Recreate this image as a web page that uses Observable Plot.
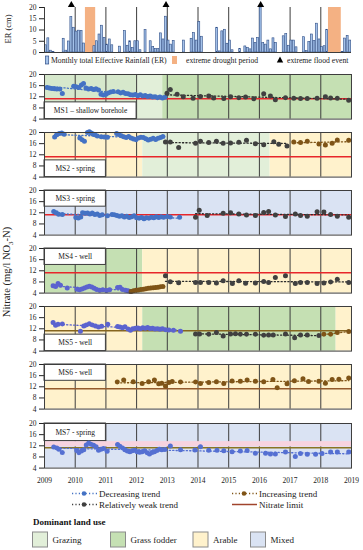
<!DOCTYPE html>
<html><head><meta charset="utf-8">
<script src="https://cdn.jsdelivr.net/npm/d3@7"></script>
<script src="https://cdn.jsdelivr.net/npm/@observablehq/plot@0.6"></script>
<style>
body{margin:0;background:#fff;}
#chart{position:relative;width:363px;height:550px;overflow:hidden;background:#fff;}
</style></head><body><div id="chart"></div>
<script>
// ---------------- DATA ----------------
const years = [2009,2010,2011,2012,2013,2014,2015,2016,2017,2018,2019];
// Monthly total effective rainfall (cm), Jan 2009 .. Dec 2018
const erMonthly = [
  3.2, 6.3, 0.8, 0.3, 0, 0, 0, 6.1, 0.8, 4.9, 15.7, 11.0,
  9.3, 9.7, 9.6, 4.0, 0, 0, 0, 2.8, 5.0, 8.0, 11.9, 6.5,
  3.5, 5.8, 3.2, 0, 0, 2.6, 0, 9.5, 3.0, 5.0, 2.0, 5.0,
  5.0, 1.0, 0, 10.0, 0, 5.0, 2.5, 1.6, 1.5, 8.5, 5.8, 15.9,
  5.3, 3.5, 5.2, 0, 0, 0, 5.3, 0, 0, 6.1, 8.6, 5.3,
  13.5, 7.0, 0, 0, 0, 0, 0, 11.0, 0.5, 9.4, 10.1, 3.9,
  5.3, 1.0, 0, 0, 1.5, 0, 2.7, 2.1, 1.4, 6.2, 4.2, 6.5,
  20.0, 4.2, 3.5, 5.3, 1.4, 6.3, 4.3, 0, 0, 7.2, 8.2, 3.0,
  5.3, 5.3, 2.3, 0, 0, 6.8, 0.6, 4.7, 8.0, 5.1, 12.8, 5.8,
  2.4, 2.8, 10.1, 0, 0, 0, 0, 0, 0.3, 6.2, 7.4, 5.3
];
const droughtPeriods = [[2010.333, 2010.667], [2018.25, 2018.667]];
const floodMonths = [10, 47, 84]; // month index from Jan 2009
const nitrateLimit = 11.3;

const ms1Decreasing = [[2009.08,15.3],[2009.16,15.2],[2009.24,15.0],[2009.32,14.9],[2009.40,14.8],[2009.50,14.8],[2009.58,13.2],[2009.95,15.8],[2010.03,15.6],[2010.12,15.3],[2010.20,16.2],[2010.27,16.8],[2010.35,15.2],[2010.43,14.8],[2010.52,15.0],[2010.60,14.6],[2010.68,14.9],[2010.76,14.4],[2010.84,12.9],[2010.92,12.6],[2011.00,12.9],[2011.08,13.4],[2011.16,13.7],[2011.24,13.9],[2011.40,13.8],[2011.48,13.4],[2011.56,13.6],[2011.64,13.2],[2011.72,13.1],[2011.80,12.7],[2011.88,12.6],[2011.96,12.8],[2012.04,12.4],[2012.12,12.7],[2012.20,12.3],[2012.28,12.5],[2012.36,12.1],[2012.44,12.3],[2012.52,11.9],[2012.60,12.0],[2012.68,11.7],[2012.76,11.9],[2012.84,11.6],[2012.92,11.8]];
const ms1Weak = [[2012.99,13.3],[2013.10,14.6],[2013.32,12.9],[2013.52,12.0],[2013.84,11.5],[2014.08,12.1],[2014.35,12.3],[2014.51,11.6],[2014.84,11.4],[2015.06,12.0],[2015.33,11.7],[2015.55,11.9],[2015.82,11.3],[2016.14,13.1],[2016.36,12.3],[2016.52,10.9],[2016.85,11.7],[2017.12,11.5],[2017.34,11.4],[2017.56,11.4],[2017.88,11.5],[2018.15,12.0],[2018.32,11.6],[2018.54,11.5],[2018.91,10.8]];

const ms2Decreasing = [[2009.33,18.4],[2009.40,19.2],[2009.48,19.6],[2009.56,19.8],[2009.64,19.4],[2010.15,18.0],[2010.22,17.4],[2010.30,16.9],[2010.40,20.0],[2010.46,20.3],[2010.52,19.8],[2010.58,19.5],[2010.64,19.2],[2010.72,18.7],[2010.85,18.5],[2010.95,18.4],[2011.05,18.3],[2011.35,19.6],[2011.42,19.3],[2011.50,18.8],[2011.58,18.5],[2011.66,18.2],[2011.74,18.6],[2011.82,18.0],[2011.90,17.7],[2011.98,17.4],[2012.06,18.0],[2012.14,18.3],[2012.22,18.2],[2012.30,17.8],[2012.38,17.3],[2012.46,17.6],[2012.54,17.9],[2012.62,17.5],[2012.70,17.9],[2012.78,18.2],[2012.86,18.6]];
const ms2Weak = [[2012.94,16.6],[2013.10,16.6],[2013.37,14.6],[2013.92,16.1],[2014.08,16.9],[2014.35,16.4],[2014.60,16.9],[2014.82,16.1],[2015.06,16.2],[2015.33,16.5],[2015.58,17.2],[2015.87,16.0],[2016.14,15.6],[2016.47,16.7],[2016.63,15.8],[2016.90,15.2]];
const ms2Increasing = [[2017.12,16.6],[2017.34,16.4],[2017.56,16.9],[2017.94,15.9],[2018.15,15.5],[2018.37,16.1],[2018.54,17.3],[2018.91,17.2]];

const ms3Decreasing = [[2009.30,12.5],[2009.38,12.0],[2009.46,11.5],[2009.58,11.4],[2010.02,10.3],[2010.10,10.1],[2010.18,10.5],[2010.24,12.0],[2010.32,11.8],[2010.40,11.9],[2010.48,11.6],[2010.56,11.9],[2010.64,11.4],[2010.72,11.6],[2010.80,11.0],[2010.88,11.3],[2011.05,10.9],[2011.20,11.4],[2011.28,11.3],[2011.36,11.0],[2011.44,10.8],[2011.52,10.9],[2011.60,10.5],[2011.68,10.8],[2011.76,10.3],[2011.84,10.6],[2011.92,10.9],[2012.00,10.2],[2012.08,10.0],[2012.16,10.3],[2012.24,9.9],[2012.32,10.2],[2012.40,10.0],[2012.48,10.4],[2012.56,10.2],[2012.64,10.6],[2012.72,10.3],[2012.80,10.6],[2012.88,10.4],[2013.00,10.7],[2013.10,10.5],[2013.40,10.4]];
const ms3Weak = [[2013.92,10.4],[2014.04,12.9],[2014.30,11.0],[2014.82,11.8],[2015.06,12.0],[2015.33,11.6],[2015.58,11.2],[2015.87,11.0],[2016.14,12.1],[2016.30,12.5],[2016.52,11.2],[2016.85,10.7],[2017.17,11.6],[2017.34,11.0],[2017.56,10.8],[2017.88,12.4],[2018.10,12.3],[2018.32,11.4],[2018.54,10.8],[2018.91,10.4]];

const ms4Decreasing = [[2009.28,6.6],[2009.36,6.4],[2009.44,7.4],[2009.52,6.8],[2009.74,5.8],[2010.06,5.4],[2010.14,5.2],[2010.22,5.5],[2010.30,5.8],[2010.38,6.2],[2010.46,6.5],[2010.54,6.2],[2010.62,5.7],[2010.70,5.3],[2010.80,5.0],[2010.90,5.2],[2011.02,4.9],[2011.12,5.2],[2011.38,6.0],[2011.46,6.1],[2011.54,5.3],[2011.64,5.0],[2011.72,4.8],[2011.80,4.6]];
const ms4Increasing = [[2011.82,4.6],[2011.90,4.8],[2011.98,5.0],[2012.06,5.1],[2012.14,5.3],[2012.22,5.4],[2012.30,5.6],[2012.38,5.7],[2012.46,5.8],[2012.54,5.9],[2012.62,6.0],[2012.70,6.1],[2012.78,6.3],[2012.86,6.4]];
const ms4Weak = [[2012.94,10.2],[2013.10,8.1],[2013.37,7.7],[2013.92,7.8],[2014.08,7.8],[2014.35,7.8],[2014.60,7.6],[2014.82,8.4],[2015.12,7.4],[2015.33,8.4],[2015.55,7.5],[2015.87,7.6],[2016.14,8.2],[2016.30,7.8],[2016.52,9.6],[2016.85,10.2],[2017.17,7.4],[2017.34,7.8],[2017.56,7.8],[2017.88,7.4],[2018.10,7.6],[2018.32,8.0],[2018.54,9.0],[2018.91,7.8]];

const ms5Decreasing = [[2009.28,14.3],[2009.36,13.3],[2009.44,13.6],[2009.58,13.7],[2010.17,11.1],[2010.28,13.0],[2010.36,13.4],[2010.46,13.8],[2010.56,13.4],[2010.66,13.0],[2010.76,12.6],[2010.86,12.9],[2011.06,13.6],[2011.38,12.8],[2011.46,12.6],[2011.54,12.4],[2011.62,12.7],[2011.72,11.9],[2011.80,11.5],[2011.88,12.0],[2011.96,12.2],[2012.04,12.3],[2012.12,12.0],[2012.20,12.4],[2012.28,12.2],[2012.36,12.5],[2012.44,12.1],[2012.52,12.2],[2012.60,11.9],[2012.68,12.0],[2012.76,11.8],[2012.84,12.0],[2012.94,11.7],[2013.05,11.6],[2013.20,11.5],[2013.43,11.1]];
const ms5Weak = [[2013.92,10.1],[2014.05,10.1],[2014.35,10.0],[2014.60,10.7],[2014.82,9.4],[2015.06,10.1],[2015.22,10.2],[2015.38,10.0],[2015.58,10.0],[2015.87,10.0],[2016.14,9.7],[2016.30,9.8],[2016.45,9.8],[2016.85,10.1],[2017.15,8.8],[2017.34,9.8],[2017.56,9.8],[2017.94,9.6]];
const ms5Increasing = [[2018.10,10.0],[2018.32,10.0],[2018.54,10.7],[2018.91,11.0]];

const ms6Increasing = [[2011.37,13.7],[2011.58,14.4],[2011.89,13.8],[2012.18,13.2],[2012.39,13.8],[2012.58,14.4],[2012.72,13.1],[2012.82,13.3],[2012.94,12.3],[2013.05,13.5],[2013.16,13.9],[2013.43,13.7],[2013.92,13.7],[2014.08,13.2],[2014.35,13.5],[2014.60,13.8],[2014.84,13.2],[2015.11,14.1],[2015.38,14.0],[2015.60,14.4],[2015.87,14.0],[2016.14,13.8],[2016.44,14.6],[2016.58,11.7],[2016.90,13.1],[2017.14,14.2],[2017.42,14.9],[2017.60,13.9],[2017.94,14.0],[2018.15,13.3],[2018.37,14.6],[2018.59,14.7],[2018.91,15.2]];

const ms7Decreasing = [[2009.30,11.6],[2009.40,11.2],[2009.47,10.8],[2009.58,9.6],[2010.05,10.3],[2010.12,9.5],[2010.20,10.1],[2010.28,10.6],[2010.36,12.3],[2010.44,13.0],[2010.52,12.6],[2010.60,12.2],[2010.68,11.7],[2010.76,10.4],[2010.84,10.8],[2010.92,11.0],[2011.04,10.0],[2011.38,12.5],[2011.46,11.8],[2011.54,11.2],[2011.62,10.6],[2011.70,10.1],[2011.78,9.9],[2011.86,10.2],[2011.94,10.4],[2012.02,9.9],[2012.10,9.7],[2012.18,9.9],[2012.26,10.2],[2012.34,9.5],[2012.42,9.1],[2012.50,9.6],[2012.58,9.9],[2012.66,10.3],[2012.74,10.8],[2012.82,10.6],[2012.92,10.7],[2013.10,11.9],[2013.43,10.6],[2013.90,10.5],[2014.08,11.7],[2014.35,10.4],[2014.62,10.4],[2014.84,10.2],[2015.11,9.9],[2015.38,10.1],[2015.60,10.3],[2015.87,9.3],[2016.20,9.3],[2016.36,9.1],[2016.52,9.1],[2016.85,9.8],[2017.17,8.2],[2017.34,9.2],[2017.56,9.0],[2017.83,9.0],[2018.04,9.2],[2018.32,9.8],[2018.54,9.8],[2018.91,9.8]];

// land use periods [from, to, use]
const ms1Land = [[2009, 2012, "Grazing"], [2012, 2012.85, "Grazing"], [2012.85, 2019, "Grass fodder"]];
const ms2Land = [[2009, 2012.2, "Arable"], [2012.2, 2016.35, "Grazing"], [2016.35, 2019, "Arable"]];
const ms3Land = [[2009, 2019, "Mixed"]];
const ms4Land = [[2009, 2012.2, "Grass fodder"], [2012.2, 2019, "Arable"]];
const ms5Land = [[2009, 2012.2, "Arable"], [2012.2, 2018.5, "Grass fodder"], [2018.5, 2019, "Arable"]];
const ms6Land = [[2009, 2019, "Arable"]];
const ms7Land = [[2009, 2019, "Mixed"]];

const siteNames = ["MS1 \u2013 shallow borehole", "MS2 - spring", "MS3 - spring", "MS4 - well", "MS5 - well", "MS6 - well", "MS7 - spring"];
const landUses = ["Grazing", "Grass fodder", "Arable", "Mixed"];

// ---------------- STYLE ----------------
const FONT = '"Liberation Serif", "Times New Roman", serif';
const landColors = {"Grazing": "#e2efd9", "Grass fodder": "#c5e0b3", "Arable": "#fff2cc", "Mixed": "#dae3f3"};
const dotColor = {dec: "#4472c4", weak: "#404040", inc: "#7f5417"};
const lineColor = {dec: "#4472c4", weak: "#2a2a2a", inc: "#7f5417"};
const gridColor = "#3d3d3d";

const panels = [
  {land: ms1Land, box: [2009, 2012, 4, 10], series: [["dec", ms1Decreasing], ["weak", ms1Weak]], limit: "#e8262b", tint: [2009, 2012, "#d6e8cc"]},
  {land: ms2Land, box: [2009, 2011, 4, 10], series: [["dec", ms2Decreasing], ["weak", ms2Weak], ["inc", ms2Increasing]], limit: "#e8262b"},
  {land: ms3Land, box: [2009, 2011, 14.2, 20], series: [["dec", ms3Decreasing], ["weak", ms3Weak]], limit: "#e8262b"},
  {land: ms4Land, box: [2009, 2011, 14.1, 20], series: [["dec", ms4Decreasing], ["inc", ms4Increasing], ["weak", ms4Weak]], limit: "#e8262b", dec: "#5b63cf"},
  {land: ms5Land, box: [2009, 2011, 4, 9.9], series: [["dec", ms5Decreasing], ["weak", ms5Weak], ["inc", ms5Increasing]], limit: "#86651f", dec: "#5b63cf"},
  {land: ms6Land, box: [2009, 2011, 14.15, 20], series: [["inc", ms6Increasing]], limit: "#945a2c"},
  {land: ms7Land, box: [2009, 2011, 13.7, 20], series: [["dec", ms7Decreasing]], limit: "#8a7422", band: [11.6, 13.5], dec: "#5570d2"}
];

const chartEl = document.getElementById("chart");
function place(svg, top) {
  svg.style.position = "absolute";
  svg.style.left = "0px";
  svg.style.top = top + "px";
  chartEl.appendChild(svg);
}
const baseStyle = {fontFamily: FONT, fontSize: "7.5px", background: "transparent", overflow: "visible", color: "#222"};

// ---------------- ER PANEL ----------------
const erRows = erMonthly.map((v, m) => ({m, v})).filter(d => d.v > 0);
const erPlot = Plot.plot({
  width: 363, height: 53, marginTop: 4, marginBottom: 4, marginLeft: 44, marginRight: 12,
  style: baseStyle,
  x: {domain: [2009, 2019], axis: null},
  y: {domain: [0, 20], ticks: [0, 5, 10, 15, 20], tickSize: 5, tickPadding: 3, label: null},
  marks: [
    Plot.rect(droughtPeriods, {x1: d => d[0], x2: d => d[1], y1: 0, y2: 20, fill: "#f4b183"}),
    Plot.ruleX(years.slice(1, -1), {y1: 0, y2: 20, stroke: gridColor, strokeWidth: 1}),
    Plot.rect(erRows, {x1: d => 2009 + d.m / 12, x2: d => 2009 + (d.m + 1) / 12, y1: 0, y2: d => d.v,
      fill: "#a4c2ea", stroke: "#2e4d86", strokeWidth: 0.6, insetLeft: 0.3, insetRight: 0.3}),
    Plot.ruleY([0], {stroke: gridColor}),
    Plot.ruleX([2009], {y1: 0, y2: 20, stroke: gridColor}),
    Plot.dot(floodMonths, {x: m => 2009 + (m + 0.5) / 12, y: () => 20, symbol: "triangle", r: 2.6, fill: "#000", dy: -2.5})
  ]
});
place(erPlot, 6.7 - 4);

// ---------------- NITRATE PANELS ----------------
panels.forEach((p, i) => {
  const top = 73.5 + i * 58.17;
  const last = i === panels.length - 1;
  const mt = 4, mb = last ? 22 : 4, h = 44.6;
  const dc = k => (k === "dec" && p.dec) ? p.dec : dotColor[k];
  const lc = k => (k === "dec" && p.dec) ? p.dec : lineColor[k];
  const marks = [
    Plot.rect(p.land, {x1: d => d[0], x2: d => d[1], y1: 4, y2: 20, fill: d => landColors[d[2]]})
  ];
  if (p.tint) marks.push(Plot.rect([p.tint], {x1: d => d[0], x2: d => d[1], y1: 4, y2: 20, fill: d => d[2]}));
  marks.push(Plot.ruleX(years.slice(1, -1), {stroke: gridColor, strokeWidth: 1}));
  if (p.band) marks.push(Plot.rect([p.band], {x1: () => 2009, x2: () => 2019, y1: d => d[0], y2: d => d[1], fill: "#f7d3df"}));
  marks.push(Plot.rect([p.box], {x1: d => d[0], x2: d => d[1], y1: d => d[2], y2: d => d[3], fill: "#fff", stroke: gridColor, strokeWidth: 1}));
  marks.push(Plot.text([siteNames[i]], {x: () => (p.box[0] + p.box[1]) / 2, y: () => (p.box[2] + p.box[3]) / 2, text: d => d, fontSize: 7.5, fill: "#222", fontFamily: FONT}));
  marks.push(Plot.ruleY([nitrateLimit], {stroke: p.limit, strokeWidth: 1.5}));
  p.series.forEach(([k, data]) => {
    marks.push(Plot.linearRegressionY(data, {x: d => d[0], y: d => d[1], ci: 0, stroke: lc(k), strokeWidth: 1.3, strokeDasharray: "1.2,2.2"}));
  });
  p.series.forEach(([k, data]) => {
    marks.push(Plot.dot(data, {x: d => d[0], y: d => d[1], r: 2.5, fill: dc(k), stroke: "none"}));
  });
  marks.push(Plot.frame({stroke: gridColor, strokeWidth: 1}));
  const svg = Plot.plot({
    width: 363, height: h + mt + mb, marginTop: mt, marginBottom: mb, marginLeft: 44, marginRight: 12,
    style: baseStyle,
    x: last ? {domain: [2009, 2019], ticks: years, tickFormat: d => String(d), tickSize: 0, tickPadding: 10, label: null}
            : {domain: [2009, 2019], axis: null},
    y: {domain: [4, 20], ticks: [4, 8, 12, 16, 20], tickSize: 5, tickPadding: 3, label: null},
    marks
  });
  place(svg, top - mt);
});

// ---------------- LABELS & LEGENDS ----------------
const ov = d3.select(chartEl).append("svg")
  .attr("width", 363).attr("height", 550)
  .style("position", "absolute").style("left", "0px").style("top", "0px")
  .style("font-family", FONT).style("pointer-events", "none");

ov.append("text").attr("transform", "translate(11,29) rotate(-90)").attr("text-anchor", "middle")
  .attr("font-size", 8.5).attr("fill", "#222").text("ER (cm)");
const nl = ov.append("text").attr("transform", "translate(10,272) rotate(-90)").attr("text-anchor", "middle")
  .attr("font-size", 10.5).attr("fill", "#222");
nl.append("tspan").text("Nitrate (mg/l NO");
nl.append("tspan").attr("font-size", 7).attr("dy", 2.5).text("3");
nl.append("tspan").attr("dy", -2.5).text("-N)");

// ER legend
const ly = 62.5;
ov.append("rect").attr("x", 45.5).attr("y", 56).attr("width", 3.2).attr("height", 8).attr("fill", "#a4c2ea").attr("stroke", "#2e4d86").attr("stroke-width", 0.7);
ov.append("text").attr("x", 51).attr("y", ly).attr("font-size", 7.7).attr("fill", "#222").text("Monthly total Effective Rainfall (ER)");
ov.append("rect").attr("x", 172).attr("y", 56).attr("width", 5).attr("height", 8).attr("fill", "#f4b183");
ov.append("text").attr("x", 186).attr("y", ly).attr("font-size", 7.7).attr("fill", "#222").text("extreme drought period");
ov.append("path").attr("d", "M280,56.5 L283.2,62.5 L276.8,62.5 Z").attr("fill", "#000");
ov.append("text").attr("x", 287).attr("y", ly).attr("font-size", 7.7).attr("fill", "#222").text("extreme flood event");

// trend legend
function trendKey(x, y, color, label, solid) {
  ov.append("line").attr("x1", x).attr("x2", x + 25).attr("y1", y).attr("y2", y)
    .attr("stroke", color).attr("stroke-width", solid ? 1.5 : 1.3).attr("stroke-dasharray", solid ? null : "1.2,2.2");
  if (!solid) ov.append("circle").attr("cx", x + 12).attr("cy", y).attr("r", 2.3).attr("fill", color);
  ov.append("text").attr("x", x + 27).attr("y", y + 3).attr("font-size", 9).attr("fill", "#222").text(label);
}
trendKey(72, 493.5, "#4472c4", "Decreasing trend");
trendKey(72, 504.5, "#404040", "Relatively weak trend");
trendKey(232, 493.5, "#7f5417", "Increasing trend");
trendKey(232, 504.5, "#a0442c", "Nitrate limit", true);

ov.append("text").attr("x", 33).attr("y", 525).attr("font-size", 9).attr("font-weight", "bold").attr("fill", "#111").text("Dominant land use");
const swX = [32.5, 110.5, 193, 250.5];
landUses.forEach((u, i) => {
  ov.append("rect").attr("x", swX[i]).attr("y", 532).attr("width", 15).attr("height", 15)
    .attr("fill", landColors[u]).attr("stroke", "#8c8c8c").attr("stroke-width", 1);
  ov.append("text").attr("x", swX[i] + 20).attr("y", 543).attr("font-size", 9).attr("fill", "#222").text(u);
});
</script></body></html>
